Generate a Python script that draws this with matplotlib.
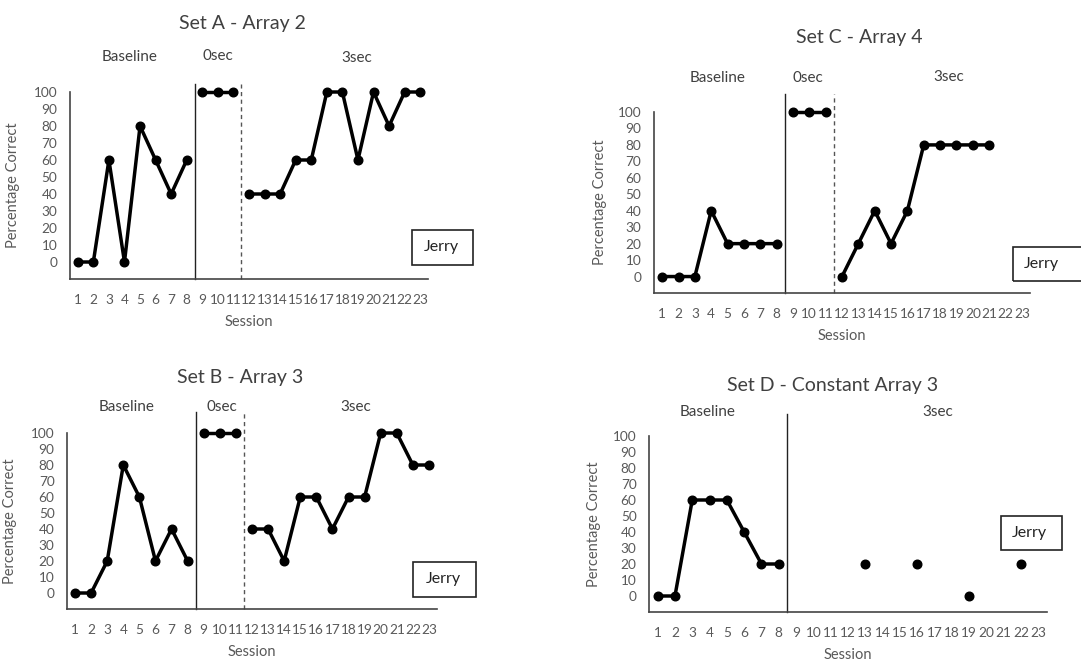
import matplotlib.pyplot as plt
from matplotlib.patches import Rectangle

plt.rcParams['font.family'] = ['Lato', 'DejaVu Sans']

sessions = list(range(1, 24))

# Set A - Array 2
a_base = [0, 0, 60, 0, 80, 60, 40, 60]
a_zero = [100, 100, 100]
a_three = [40, 40, 40, 60, 60, 100, 100, 60, 100, 80, 100, 100]

# Set B - Array 3
b_base = [0, 0, 20, 80, 60, 20, 40, 20]
b_zero = [100, 100, 100]
b_three = [40, 40, 20, 60, 60, 40, 60, 60, 100, 100, 80, 80]

# Set C - Array 4
c_base = [0, 0, 0, 40, 20, 20, 20, 20]
c_zero = [100, 100, 100]
c_three = [0, 20, 40, 20, 40, 80, 80, 80, 80, 80]

# Set D - Constant Array 3 (3sec probes only on some sessions)
d_base = [0, 0, 60, 60, 60, 40, 20, 20]
d_probe_x = [13, 16, 19, 22]
d_probe_y = [20, 20, 0, 20]

W, H = 1081, 662
fig = plt.figure(figsize=(W / 100, H / 100), dpi=100)

TXT = '#404040'
TICK = '#595959'


def px_axes(left, top, right, bottom):
    return fig.add_axes([left / W, 1 - bottom / H, (right - left) / W, (bottom - top) / H])


def panel(box, title, title_xy, labels, phase_lines, line_top, jerry, jerry_x, ylab_x):
    ax = px_axes(*box)
    ax.set_xlim(0.5, 23.5)
    ax.set_ylim(-10, 100)
    for s in ['top', 'right']:
        ax.spines[s].set_visible(False)
    for s in ['left', 'bottom']:
        ax.spines[s].set_color('#444444')
        ax.spines[s].set_linewidth(1.2)
    ax.set_yticks(range(0, 101, 10))
    ax.set_xticks(sessions)
    ax.tick_params(length=0, labelsize=9.8, colors=TICK)
    ax.tick_params(axis='y', pad=9)
    ax.tick_params(axis='x', pad=11)
    ax.set_xlabel('Session', fontsize=10.5, color=TICK, labelpad=6)
    ax.set_ylabel('Percentage Correct', fontsize=10.5, color=TICK)
    ax.yaxis.set_label_coords((ylab_x - box[0]) / (box[2] - box[0]), 0.5)
    fig.text(title_xy[0] / W, 1 - title_xy[1] / H, title, fontsize=14,
             color=TXT, ha='center', va='center')
    for txt, x, y in labels:
        fig.text(x / W, 1 - y / H, txt, fontsize=11, color=TXT, ha='center', va='center')
    for x, ls in phase_lines:
        if ls == '-':
            ax.plot([x, x], [-10, line_top], color='#222222', lw=1.0, clip_on=False)
        else:
            ax.plot([x, x], [-10, line_top], color='#555555', lw=1.0,
                    dashes=(3, 2.5), clip_on=False)
    x0, y0, x1, y1 = jerry
    fig.add_artist(Rectangle((x0 / W, 1 - y1 / H), (x1 - x0) / W, (y1 - y0) / H,
                             transform=fig.transFigure, fill=False,
                             edgecolor='#222222', lw=1.2, clip_on=False))
    fig.text(jerry_x / W, 1 - (y0 + y1) / 2 / H, 'Jerry', fontsize=11.5,
             color='#222222', ha='center', va='center')
    return ax


style = dict(color='black', lw=2.5, marker='o', ms=6.2, clip_on=False)

# Set A
ax = panel((70, 92, 428, 279), 'Set A - Array 2', (242, 24),
           [('Baseline', 130, 57), ('0sec', 218, 56), ('3sec', 357, 58)],
           [(8.5, '-'), (11.5, '--')], 104.7, (412, 230, 473, 265), 441, 20)
ax.plot(sessions[0:8], a_base, **style)
ax.plot(sessions[8:11], a_zero, **style)
ax.plot(sessions[11:23], a_three, **style)

# Set C
ax = panel((654, 112, 1030, 293), 'Set C - Array 4', (859, 37),
           [('Baseline', 718, 78), ('0sec', 808, 78), ('3sec', 949, 77)],
           [(8.5, '-'), (11.5, '--')], 110.7, (1013, 247, 1090, 281), 1041, 607)
ax.plot(sessions[0:8], c_base, **style)
ax.plot(sessions[8:11], c_zero, **style)
ax.plot(sessions[11:21], c_three, **style)

# Set B
ax = panel((67, 433, 437, 609), 'Set B - Array 3', (240, 378),
           [('Baseline', 127, 407), ('0sec', 222, 407), ('3sec', 356, 407)],
           [(8.5, '-'), (11.5, '--')], 113, (413, 562, 476, 597), 443, 17)
ax.plot(sessions[0:8], b_base, **style)
ax.plot(sessions[8:11], b_zero, **style)
ax.plot(sessions[11:23], b_three, **style)

# Set D
ax = panel((649, 436, 1047, 612), 'Set D - Constant Array 3', (833, 385),
           [('Baseline', 708, 412), ('3sec', 938, 412)],
           [(8.5, '-')], 113.75, (1001, 516, 1062, 550), 1029, 601)
ax.plot(sessions[0:8], d_base, **style)
ax.plot(d_probe_x, d_probe_y, color='black', ls='none', marker='o', ms=6.2, clip_on=False)

fig.savefig('out.png', dpi=100)
